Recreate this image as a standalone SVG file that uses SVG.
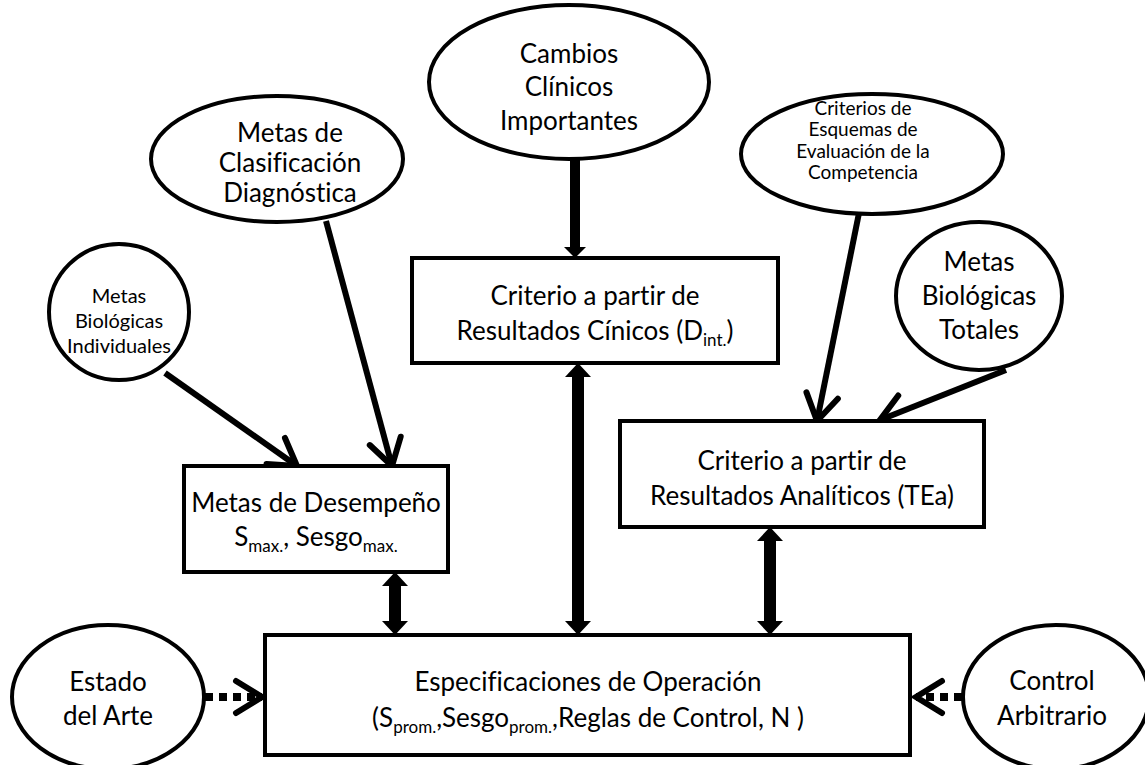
<svg xmlns="http://www.w3.org/2000/svg" width="1145" height="765" viewBox="0 0 1145 765">
<defs>
<style>
.node{fill:#fff;stroke:#000;stroke-width:4}
.t{font-family:Lato,"Liberation Sans",sans-serif;font-size:26px;fill:#000;text-anchor:middle;font-variant-ligatures:none}
.s{font-size:20px}
.xs{font-size:19px}
.sub{font-size:17px}
.open{fill:none;stroke:#000;stroke-width:6}
.dot{fill:none;stroke:#000;stroke-width:8;stroke-dasharray:8 6}
.thick{fill:none;stroke:#000;stroke-width:12}
.med{fill:none;stroke:#000;stroke-width:10}
</style>
<marker id="chev" markerUnits="userSpaceOnUse" viewBox="-32 -20 36 40" refX="0" refY="0" markerWidth="36" markerHeight="40" orient="auto" overflow="visible">
<path d="M-26,-16 L0,0 L-26,16" fill="none" stroke="#000" stroke-width="6" stroke-linecap="round" stroke-linejoin="miter"/>
</marker>
<marker id="tri" markerUnits="userSpaceOnUse" viewBox="0 -13 14 26" refX="0" refY="0" markerWidth="14" markerHeight="26" orient="auto-start-reverse" overflow="visible">
<path d="M0,-13 L14,0 L0,13 Z" fill="#000"/>
</marker>
<marker id="tri2" markerUnits="userSpaceOnUse" viewBox="0 -11 11 22" refX="0" refY="0" markerWidth="11" markerHeight="22" orient="auto" overflow="visible">
<path d="M0,-11 L11,0 L0,11 Z" fill="#000"/>
</marker>
</defs>
<rect width="1145" height="765" fill="#fff"/>

<g id="connectors">
<line class="open" x1="165" y1="373" x2="297" y2="466" marker-end="url(#chev)"/>
<line class="open" x1="326" y1="221" x2="392" y2="466" marker-end="url(#chev)"/>
<line class="open" x1="859" y1="213" x2="817" y2="421" marker-end="url(#chev)"/>
<line class="open" x1="1006" y1="370" x2="880" y2="420" marker-end="url(#chev)"/>
<line class="med" x1="575" y1="158" x2="575" y2="247" marker-end="url(#tri2)"/>
<line class="thick" x1="395" y1="586" x2="395" y2="621" marker-start="url(#tri)" marker-end="url(#tri)"/>
<line class="thick" x1="578" y1="377" x2="578" y2="621" marker-start="url(#tri)" marker-end="url(#tri)"/>
<line class="thick" x1="770" y1="541" x2="770" y2="621" marker-start="url(#tri)" marker-end="url(#tri)"/>
<line class="dot" x1="205" y1="697" x2="262" y2="697" marker-end="url(#chev)"/>
<line class="dot" x1="962" y1="697" x2="916" y2="697" marker-end="url(#chev)"/>
</g>

<g id="n-individuales">
<ellipse class="node" cx="119" cy="312" rx="70" ry="68"/>
<text class="t s" x="119" y="303">Metas</text>
<text class="t s" x="119" y="328">Biológicas</text>
<text class="t s" x="119" y="353">Individuales</text>
</g>
<g id="n-clasificacion">
<ellipse class="node" cx="277" cy="159" rx="126" ry="63"/>
<text class="t" x="290" y="142">Metas de</text>
<text class="t" x="290" y="172">Clasificación</text>
<text class="t" x="290" y="202">Diagnóstica</text>
</g>
<g id="n-cambios">
<ellipse class="node" cx="569" cy="82" rx="140" ry="77"/>
<text class="t" x="569" y="63">Cambios</text>
<text class="t" x="569" y="96">Clínicos</text>
<text class="t" x="569" y="130">Importantes</text>
</g>
<g id="n-criterios">
<ellipse class="node" cx="872" cy="154" rx="131" ry="60"/>
<text class="t xs" x="863" y="115">Criterios de</text>
<text class="t xs" x="863" y="136">Esquemas de</text>
<text class="t xs" x="863" y="158">Evaluación de la</text>
<text class="t xs" x="863" y="179">Competencia</text>
</g>
<g id="n-totales">
<ellipse class="node" cx="979" cy="296" rx="83" ry="74"/>
<text class="t" x="979" y="271">Metas</text>
<text class="t" x="979" y="305">Biológicas</text>
<text class="t" x="979" y="339">Totales</text>
</g>
<g id="n-desempeno">
<rect class="node" x="184" y="466" width="264" height="106"/>
<text class="t" x="316" y="512">Metas de Desempeño</text>
<text class="t" x="316" y="546">S<tspan class="sub" dy="6">max.</tspan><tspan dy="-6">, Sesgo</tspan><tspan class="sub" dy="6">max.</tspan></text>
</g>
<g id="n-clinicos">
<rect class="node" x="412" y="258" width="366" height="105"/>
<text class="t" x="595" y="305">Criterio a partir de</text>
<text class="t" x="595" y="340">Resultados Cínicos (D<tspan class="sub" dy="6">int.</tspan><tspan dy="-6">)</tspan></text>
</g>
<g id="n-analiticos">
<rect class="node" x="620" y="421" width="364" height="106"/>
<text class="t" x="802" y="470">Criterio a partir de</text>
<text class="t" x="802" y="505">Resultados Analíticos (TEa)</text>
</g>
<g id="n-especificaciones">
<rect class="node" x="265" y="635" width="645" height="120"/>
<text class="t" x="588" y="691">Especificaciones de Operación</text>
<text class="t" x="588" y="727">(S<tspan class="sub" dy="6">prom.</tspan><tspan dy="-6">,Sesgo</tspan><tspan class="sub" dy="6">prom.</tspan><tspan dy="-6">,Reglas de Control, N )</tspan></text>
</g>
<g id="n-estado">
<ellipse class="node" cx="108" cy="697" rx="96" ry="72"/>
<text class="t" x="108" y="691">Estado</text>
<text class="t" x="108" y="725">del Arte</text>
</g>
<g id="n-control">
<ellipse class="node" cx="1056" cy="697" rx="93" ry="72"/>
<text class="t" x="1052" y="690">Control</text>
<text class="t" x="1052" y="725">Arbitrario</text>
</g>
</svg>
